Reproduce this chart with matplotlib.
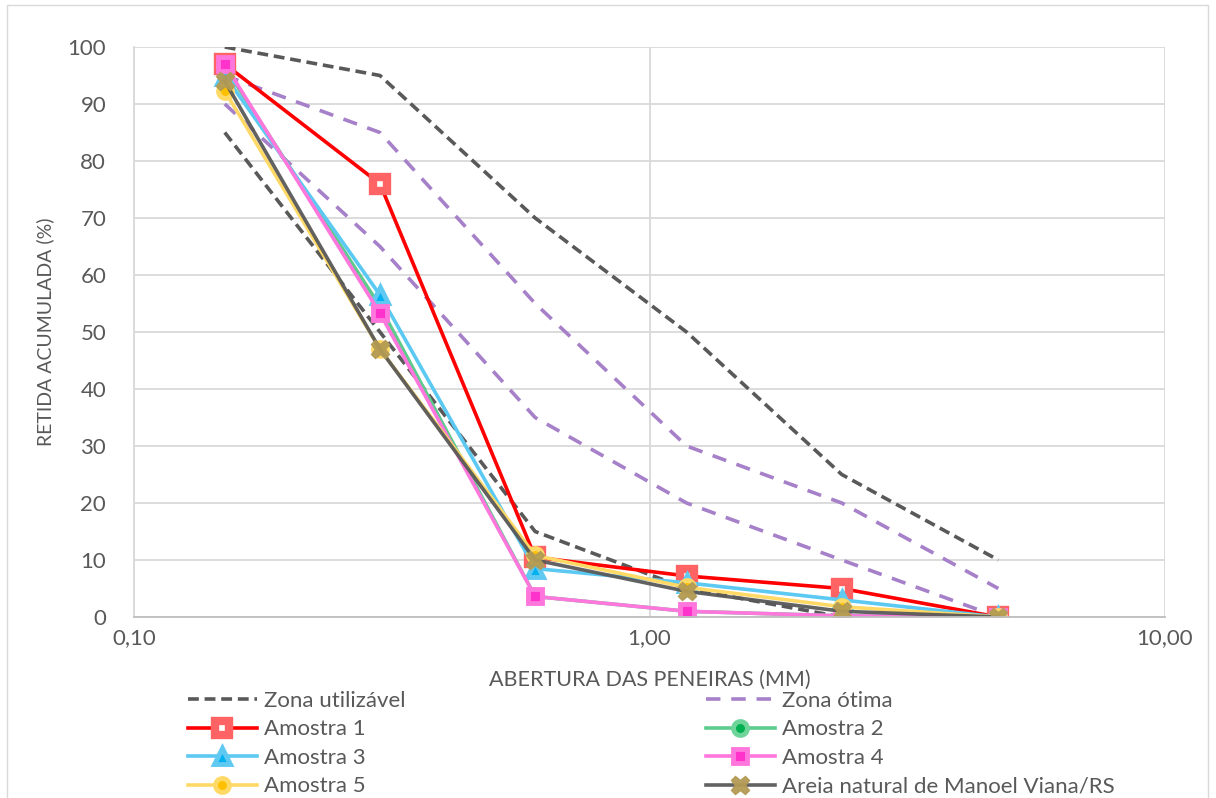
import matplotlib
matplotlib.use("Agg")
import matplotlib.pyplot as plt
from matplotlib.ticker import FixedLocator, FuncFormatter, NullLocator
from matplotlib.lines import Line2D
from matplotlib.patches import Rectangle

plt.rcParams['font.family'] = ['Lato', 'DejaVu Sans']

# Sieve openings (mm)
sieves = [0.15, 0.3, 0.6, 1.18, 2.36, 4.75]

# Limits (NBR 7211)
util_upper = [100, 95, 70, 50, 25, 10]
util_lower = [85, 50, 15, 5, 0, 0]
otima_upper = [95, 85, 55, 30, 20, 5]
otima_lower = [90, 65, 35, 20, 10, 0]

# Samples (% retained accumulated)
amostra1 = [97.0, 76.0, 10.5, 7.2, 5.0, 0.0]
amostra2 = [96.5, 54.5, 3.6, 1.0, 0.2, 0.0]
amostra3 = [95.0, 56.5, 8.5, 6.0, 3.0, 0.0]
amostra4 = [97.0, 53.3, 3.6, 1.0, 0.2, 0.0]
amostra5 = [92.3, 47.0, 10.8, 5.2, 1.8, 0.0]
areia = [94.0, 47.0, 10.0, 4.5, 1.0, 0.0]

x_ticks = [0.1, 1.0, 10.0]
y_ticks = [0, 10, 20, 30, 40, 50, 60, 70, 80, 90, 100]

W, H = 1216, 798
fig = plt.figure(figsize=(W / 100, H / 100), dpi=100)
ax = fig.add_axes([134 / W, 1 - 617 / H, (1165 - 134) / W, (617 - 47) / H])

txt = '#595959'
grid_c = '#D9D9D9'

ax.set_xscale('log')
ax.set_xlim(0.1, 10)
ax.set_ylim(0, 100)
ax.xaxis.set_major_locator(FixedLocator(x_ticks))
ax.xaxis.set_minor_locator(NullLocator())
ax.xaxis.set_major_formatter(FuncFormatter(lambda v, p: f"{v:.2f}".replace('.', ',')))
ax.yaxis.set_major_locator(FixedLocator(y_ticks))
ax.grid(True, color=grid_c, linewidth=1.3)
ax.set_axisbelow(True)
for s in ['top', 'right']:
    ax.spines[s].set_visible(False)
ax.spines['left'].set_color(grid_c)
ax.spines['left'].set_linewidth(1.3)
ax.spines['bottom'].set_color('#BFBFBF')
ax.spines['bottom'].set_linewidth(1.3)
ax.tick_params(length=0, labelsize=16, colors=txt)
ax.tick_params(axis='x', pad=8)
ax.tick_params(axis='y', pad=20)

ax.set_xlabel('ABERTURA DAS PENEIRAS (MM)', fontsize=15.5, color=txt, labelpad=16)
ax.set_ylabel('RETIDA ACUMULADA (%)', fontsize=14, color=txt, labelpad=10)

lw = 2.6
util_style = dict(color='#595959', linestyle=(0, (3, 1.6)), linewidth=lw)
otima_style = dict(color='#A680C8', linestyle=(0, (4, 3)), linewidth=lw)

ax.plot(sieves, util_upper, **util_style)
ax.plot(sieves, util_lower, **util_style)
ax.plot(sieves, otima_upper, **otima_style)
ax.plot(sieves, otima_lower, **otima_style)

styles = [
    ('Amostra 1', amostra1, dict(color='#FF0000', marker='s', markersize=10, mfc='white', mec='#FF6363', mew=6)),
    ('Amostra 2', amostra2, dict(color='#5CCB8C', marker='o', markersize=10, mfc='#00B050', mec='#6FD49A', mew=3.5)),
    ('Amostra 3', amostra3, dict(color='#5BC9F2', marker='^', markersize=11, mfc='#00B0F0', mec='#5FC9F2', mew=3.5)),
    ('Amostra 4', amostra4, dict(color='#FF77DD', marker='s', markersize=10, mfc='#FF33CC', mec='#FF77DD', mew=3.5)),
    ('Amostra 5', amostra5, dict(color='#FFD966', marker='o', markersize=10, mfc='#FFC000', mec='#FFD966', mew=3.5)),
    ('Areia natural de Manoel Viana/RS', areia, dict(color='#595959', marker='X', markersize=13, mfc='#B39B55', mec='#B39B55', mew=1, alpha=0.95)),
]
handles = {}
for name, vals, st in styles:
    ln, = ax.plot(sieves, vals, linewidth=lw, **st)
    handles[name] = ln

h_util = Line2D([], [], **util_style)
h_otima = Line2D([], [], **otima_style)

leg_kw = dict(loc='upper left', frameon=False, fontsize=16, labelcolor=txt,
              handlelength=3.1, handletextpad=0.3, labelspacing=0.38,
              borderaxespad=0, borderpad=0)
leg1 = fig.legend([h_util, handles['Amostra 1'], handles['Amostra 3'], handles['Amostra 5']],
                  ['Zona utilizável', 'Amostra 1', 'Amostra 3', 'Amostra 5'],
                  bbox_to_anchor=(188 / W, 1 - 691 / H), **leg_kw)
leg2 = fig.legend([h_otima, handles['Amostra 2'], handles['Amostra 4'], handles['Areia natural de Manoel Viana/RS']],
                  ['Zona ótima', 'Amostra 2', 'Amostra 4', 'Areia natural de Manoel Viana/RS'],
                  bbox_to_anchor=(706 / W, 1 - 691 / H), **leg_kw)

fig.patches.append(Rectangle((7 / W, -0.01), (1208 - 7) / W, 1 - 5 / H + 0.01,
                             transform=fig.transFigure, fill=False, edgecolor='#D9D9D9', linewidth=1))

fig.savefig('out.png', dpi=100)
